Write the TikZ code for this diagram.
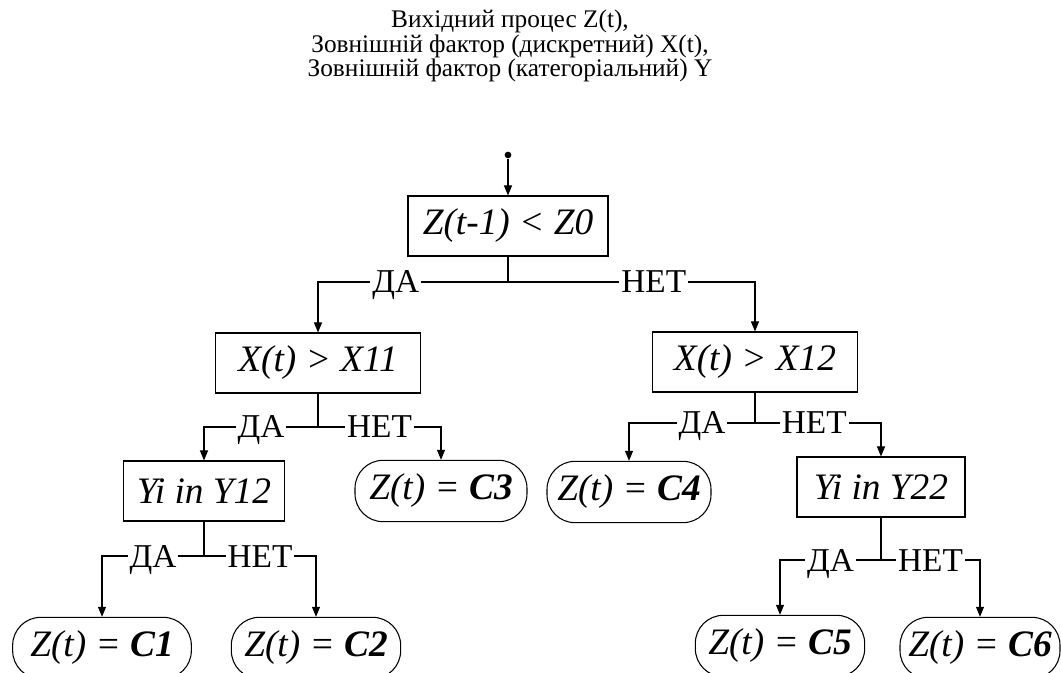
\documentclass[tikz,border=0pt]{standalone}
\usepackage{fontspec}
\setmainfont{Liberation Serif}
\usetikzlibrary{arrows.meta, positioning, calc}

\begin{document}
\begin{tikzpicture}[
        x=0.75pt, y=-0.75pt,
        line width=0.8pt,
        >={Triangle[length=7.5pt, width=6pt]},
        cond/.style={draw, font=\fontsize{28}{30}\selectfont\itshape, minimum height=45pt, inner sep=2pt},
        leaf/.style={draw, rounded corners=21pt, font=\fontsize{28}{30}\selectfont\itshape, minimum height=46pt, inner sep=2pt},
        lbl/.style={font=\fontsize{25}{26}\selectfont, fill=white, inner xsep=1.5pt, inner ysep=2pt, text height=16.5pt, text depth=0pt},
        ttl/.style={font=\fontsize{19}{18.5}\selectfont, align=center},
        dot/.style={circle, fill, inner sep=0pt, minimum size=5pt}
    ]
        \useasboundingbox (0,0) rectangle (1061,673);
        % --- Вхідні дані ---
        \node[ttl] (title) at (510,46) {Вихідний процес Z(t),\\ Зовнішній фактор (дискретний) X(t),\\ Зовнішній фактор (категоріальний) Y};
        \node[dot] (start) at (508,155) {};
        % --- Корінь ---
        \node[cond, minimum width=150pt] (root) at (508,226) {Z(t-1) < Z0};
        % --- Рівень 1 ---
        \node[cond, minimum width=154pt] (x11) at (318,363) {X(t) > X11};
        \node[cond, minimum width=154pt] (x12) at (755,362) {X(t) > X12};
        % --- Рівень 2 ---
        \node[cond, minimum width=121pt] (y12) at (204,491) {Yi in Y12};
        \node[leaf, minimum width=129pt] (c3) at (441,491) {Z(t) = \textbf{C3}};
        \node[leaf, minimum width=123pt] (c4) at (629,492) {Z(t) = \textbf{C4}};
        \node[cond, minimum width=126pt] (y22) at (881,487) {Yi in Y22};
        % --- Рівень 3 ---
        \node[leaf, minimum width=134pt] (c1) at (102,648) {Z(t) = \textbf{C1}};
        \node[leaf, minimum width=127pt] (c2) at (316,648) {Z(t) = \textbf{C2}};
        \node[leaf, minimum width=127pt] (c5) at (780,646) {Z(t) = \textbf{C5}};
        \node[leaf, minimum width=120pt] (c6) at (980,648) {Z(t) = \textbf{C6}};

        % --- Точки розгалуження ---
        \coordinate (s0) at (508,282);
        \coordinate (s1) at (318,427);
        \coordinate (s2) at (755,423);
        \coordinate (s3) at (204,556);
        \coordinate (s4) at (881,560);

        % --- Гілки ---
        \draw[->] (start) -- (root);
        \draw (root) -- (s0);
        \draw[->] (s0) -- node[lbl, pos=0.59]{ДА} (s0 -| x11) -- (x11);
        \draw[->] (s0) -- node[lbl, pos=0.59]{НЕТ} (s0 -| x12) -- (x12);
        \draw (x11) -- (s1);
        \draw[->] (s1) -- node[lbl]{ДА} (s1 -| y12) -- (y12);
        \draw[->] (s1) -- node[lbl]{НЕТ} (s1 -| c3) -- (c3);
        \draw (x12) -- (s2);
        \draw[->] (s2) -- node[lbl, pos=0.42]{ДА} (s2 -| c4) -- (c4);
        \draw[->] (s2) -- node[lbl, pos=0.47]{НЕТ} (s2 -| y22) -- (y22);
        \draw (y12) -- (s3);
        \draw[->] (s3) -- node[lbl]{ДА} (s3 -| c1) -- (c1);
        \draw[->] (s3) -- node[lbl]{НЕТ} (s3 -| c2) -- (c2);
        \draw (y22) -- (s4);
        \draw[->] (s4) -- node[lbl]{ДА} (s4 -| c5) -- (c5);
        \draw[->] (s4) -- node[lbl]{НЕТ} (s4 -| c6) -- (c6);
    \end{tikzpicture}
\end{document}
